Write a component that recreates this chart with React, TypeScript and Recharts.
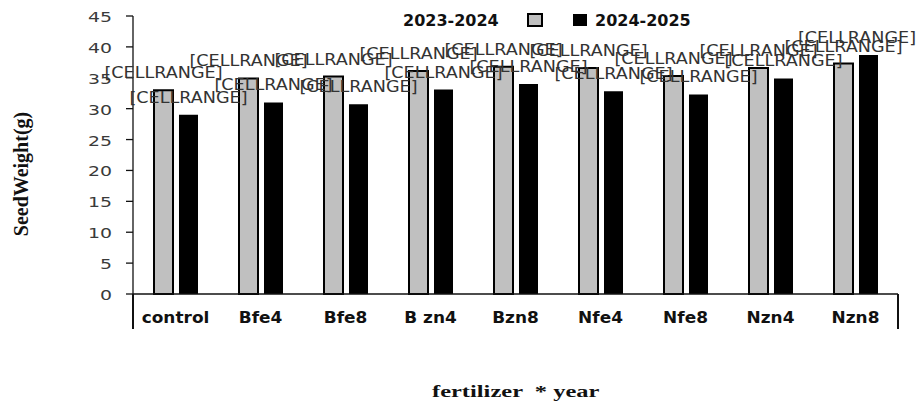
import { BarChart, Bar, XAxis, YAxis, LabelList } from "recharts";

const categories = ["control", "Bfe4", "Bfe8", "B zn4", "Bzn8", "Nfe4", "Nfe8", "Nzn4", "Nzn8"];
const season1 = [33.0, 34.9, 35.2, 36.1, 36.8, 36.6, 35.3, 36.6, 37.3];
const season2 = [29.0, 31.0, 30.7, 33.1, 34.0, 32.8, 32.3, 34.9, 38.7];
const seriesNames = ["2023-2024", "2024-2025"];
const yTicks = [0, 5, 10, 15, 20, 25, 30, 35, 40, 45];
const labelText = "[CELLRANGE]";

const data = categories.map((name, i) => ({
  name,
  s1: season1[i],
  s2: season2[i],
}));

const W = 919;
const H = 403;
const PLOT_LEFT = 133;
const PLOT_RIGHT = 898;
const PLOT_TOP = 16;
const PLOT_BOTTOM = 294;
const AXIS_BOX = 36;
const LABEL_HALF = 60; // approx half width of a data label, keeps it inside the picture

const sans = "'DejaVu Sans', Verdana, sans-serif";
const serif = "'Liberation Serif', 'Times New Roman', serif";

function YTick(props: any) {
  const { x, y, payload } = props;
  return (
    <g transform={`translate(${x},${y + 6}) scale(1.35,1)`}>
      <text x={0} y={0} textAnchor="end" fontFamily={sans} fontSize={14} fill="#3a3a3a">
        {payload.value}
      </text>
    </g>
  );
}

function XTick(props: any) {
  const { x, payload } = props;
  return (
    <g transform={`translate(${x},${PLOT_BOTTOM + 29}) scale(1.06,1)`}>
      <text x={0} y={0} textAnchor="middle" fontFamily={sans} fontWeight="bold" fontSize={16} fill="#111">
        {payload.value}
      </text>
    </g>
  );
}

function CellLabel(props: any) {
  const { x, y, width } = props;
  const cx = Math.min(x + width / 2, W - 2 - LABEL_HALF);
  return (
    <g transform={`translate(${cx},${y - 12}) scale(1.1,1)`}>
      <text x={0} y={0} textAnchor="middle" fontFamily={sans} fontSize={16} fill="#333">
        {labelText}
      </text>
    </g>
  );
}

export default function App() {
  return (
    <div style={{ position: "absolute", left: 0, top: 0, width: W, height: H, background: "#fff" }}>
      <BarChart
        width={W}
        height={H}
        data={data}
        margin={{ top: PLOT_TOP, right: W - PLOT_RIGHT, left: 0, bottom: H - PLOT_BOTTOM - AXIS_BOX }}
        barGap={6}
        barSize={19}
      >
        <XAxis
          dataKey="name"
          height={AXIS_BOX}
          tickLine={false}
          axisLine={{ stroke: "#111", strokeWidth: 1.5 }}
          tick={(p: any) => <XTick {...p} />}
          interval={0}
        />
        <YAxis
          width={PLOT_LEFT}
          domain={[0, 45]}
          ticks={yTicks}
          tickSize={7}
          tickMargin={14}
          axisLine={{ stroke: "#111", strokeWidth: 1.3 }}
          tickLine={{ stroke: "#111", strokeWidth: 1.3 }}
          tick={(p: any) => <YTick {...p} />}
          interval={0}
        />
        <Bar dataKey="s1" name={seriesNames[0]} fill="#c0c0c0" stroke="#000" strokeWidth={2} isAnimationActive={false}>
          <LabelList dataKey="s1" content={(p: any) => <CellLabel {...p} />} />
        </Bar>
        <Bar dataKey="s2" name={seriesNames[1]} fill="#000" isAnimationActive={false}>
          <LabelList dataKey="s2" content={(p: any) => <CellLabel {...p} />} />
        </Bar>
      </BarChart>
      <svg
        width={W}
        height={H}
        style={{ position: "absolute", left: 0, top: 0, pointerEvents: "none" }}
      >
        <line x1={PLOT_LEFT} y1={PLOT_BOTTOM} x2={PLOT_LEFT} y2={PLOT_BOTTOM + AXIS_BOX - 1} stroke="#111" strokeWidth={2} />
        <line x1={PLOT_RIGHT} y1={PLOT_BOTTOM} x2={PLOT_RIGHT} y2={PLOT_BOTTOM + AXIS_BOX - 1} stroke="#111" strokeWidth={2} />
        <text x={403} y={26} fontFamily={sans} fontWeight="bold" fontSize={16} fill="#111">
          {seriesNames[0]}
        </text>
        <rect x={528} y={14} width={14} height={12} fill="#c0c0c0" stroke="#000" strokeWidth={2} />
        <rect x={573} y={14} width={14} height={12} fill="#000" />
        <text x={595} y={26} fontFamily={sans} fontWeight="bold" fontSize={16} fill="#111">
          {seriesNames[1]}
        </text>
        <g transform="translate(28,174) rotate(-90)">
          <text x={0} y={0} textAnchor="middle" fontFamily={serif} fontWeight="bold" fontSize={20} fill="#111">
            SeedWeight(g)
          </text>
        </g>
        <g transform="translate(432,397) scale(1.4,1)">
          <text x={0} y={0} fontFamily={serif} fontWeight="bold" fontSize={17.5} fill="#111" style={{ whiteSpace: "pre" }}>
            fertilizer  * year
          </text>
        </g>
      </svg>
    </div>
  );
}
